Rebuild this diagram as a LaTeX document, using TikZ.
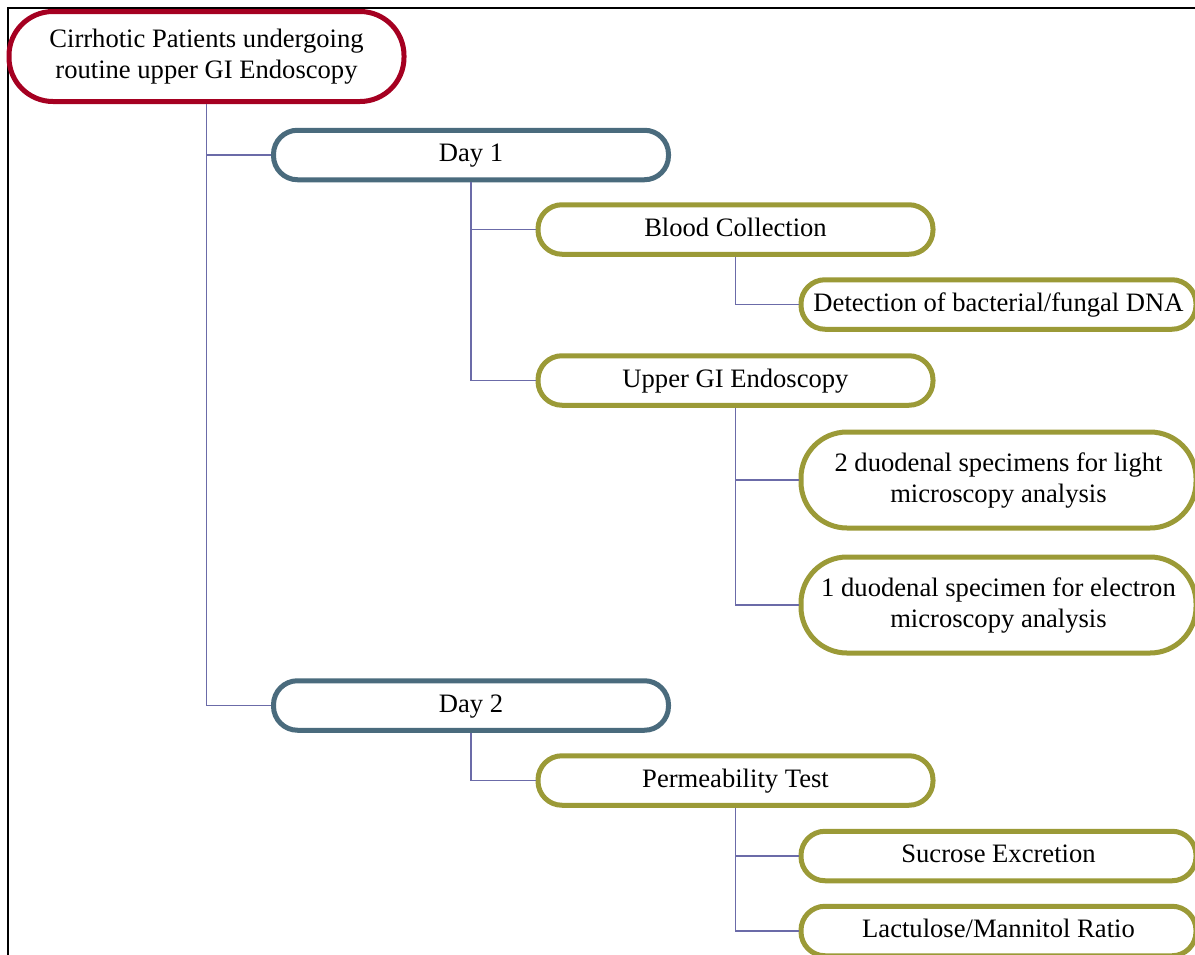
\documentclass[tikz,border=0pt]{standalone}
\usepackage{fontspec}
\setmainfont{Liberation Serif}
\definecolor{rootred}{HTML}{A50021}
\definecolor{dayblue}{HTML}{4A6B7D}
\definecolor{stepolive}{HTML}{9B9A37}
\definecolor{linkviolet}{HTML}{6B6BA8}
\begin{document}
\begin{tikzpicture}[x=0.5pt, y=-0.5pt]
    \tikzset{box/.style={draw, line width=2.5pt, fill=white, minimum width=197.5pt, align=center, inner sep=0pt, font=\fontsize{13.3}{15.5}\selectfont}}
    \tikzset{rootbox/.style={box, draw=rootred, minimum height=45pt, rounded corners=22pt}}
    \tikzset{daybox/.style={box, draw=dayblue, minimum height=24.75pt, rounded corners=12pt, text height=0.9em, text depth=0.22em}}
    \tikzset{stepbox/.style={box, draw=stepolive, minimum height=24.75pt, rounded corners=12pt, text height=0.9em, text depth=0.22em}}
    \tikzset{bigbox/.style={box, draw=stepolive, minimum height=48pt, rounded corners=23pt}}
    \tikzset{link/.style={draw=linkviolet, line width=0.9pt}}
    \useasboundingbox (0, 0) rectangle (1195, 954);
    \clip (0, 0) rectangle (1195, 954);
    \draw[line width=1pt] (7.5, 970) -- (7.5, 7.5) -- (1210, 7.5);
    % tree
    \node[rootbox] (root) at (206.5, 56.5) {Cirrhotic Patients undergoing\\routine upper GI Endoscopy};
    \node[daybox] (day1) at (471, 155) {Day 1};
    \node[stepbox] (blood) at (735.5, 229.5) {Blood Collection};
    \node[stepbox] (dna) at (998.5, 304.5) {Detection of bacterial/fungal DNA};
    \node[stepbox] (endo) at (735.5, 380.5) {Upper GI Endoscopy};
    \node[bigbox] (light) at (998.5, 480) {2 duodenal specimens for light\\microscopy analysis};
    \node[bigbox] (electron) at (998.5, 605) {1 duodenal specimen for electron\\microscopy analysis};
    \node[daybox] (day2) at (471, 705.5) {Day 2};
    \node[stepbox] (perm) at (735.5, 780.5) {Permeability Test};
    \node[stepbox] (sucrose) at (998.5, 856) {Sucrose Excretion};
    \node[stepbox] (ratio) at (998.5, 931) {Lactulose/Mannitol Ratio};
    % links
    \draw[link] (root.south) |- (day1.west);
    \draw[link] (root.south) |- (day2.west);
    \draw[link] (day1.south) |- (blood.west);
    \draw[link] (day1.south) |- (endo.west);
    \draw[link] (blood.south) |- (dna.west);
    \draw[link] (endo.south) |- (light.west);
    \draw[link] (endo.south) |- (electron.west);
    \draw[link] (day2.south) |- (perm.west);
    \draw[link] (perm.south) |- (sucrose.west);
    \draw[link] (perm.south) |- (ratio.west);
\end{tikzpicture}
\end{document}
